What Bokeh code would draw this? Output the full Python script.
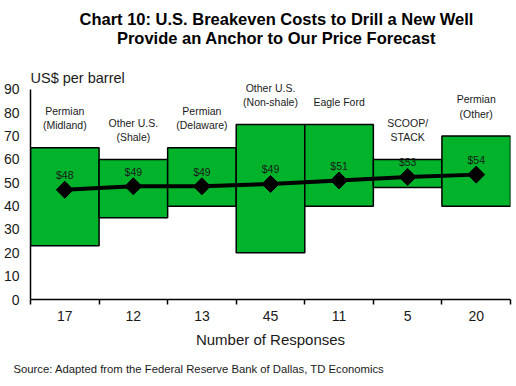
import numpy as np
from bokeh.plotting import figure
from bokeh.models import Range1d, FixedTicker, ColumnDataSource, Title
from bokeh.core.properties import value
from bokeh.embed import file_html
from bokeh.resources import INLINE

# ---- data ----
regions = ["Permian\n(Midland)", "Other U.S.\n(Shale)", "Permian\n(Delaware)",
           "Other U.S.\n(Non-shale)", "Eagle Ford", "SCOOP/\nSTACK", "Permian\n(Other)"]
responses = ["17", "12", "13", "45", "11", "5", "20"]
low = [23, 35, 40, 20, 40, 48, 40]
high = [65, 60, 65, 75, 75, 60, 70]
breakeven = [47, 48.5, 48.5, 49.5, 51, 52.5, 53.5]
breakeven_labels = ["$48", "$49", "$49", "$49", "$51", "$53", "$54"]
y_ticks = [0, 10, 20, 30, 40, 50, 60, 70, 80, 90]
title_lines = ["Chart 10: U.S. Breakeven Costs to Drill a New Well",
               "Provide an Anchor to Our Price Forecast"]

FONT = "Liberation Sans"
GREEN = "#00B32A"
TXT = "#1a1a1a"

n = len(regions)
idx = np.arange(n)
src = ColumnDataSource(dict(
    left=idx, right=idx + 1, center=idx + 0.5,
    low=low, high=high, be=breakeven, be_lab=breakeven_labels,
    reg=regions, reg_y=np.array(high) + 7.0, lab_y=np.array(breakeven) + 6.2,
))

# frame spans the full height above the x axis so the header texts sit inside it
p = figure(width=516, height=386, output_backend="svg", toolbar_location=None,
           x_range=Range1d(0, n), y_range=Range1d(0, 128.1),
           min_border_top=0, min_border_bottom=87, min_border_left=30, min_border_right=6)
p.outline_line_color = None
p.xgrid.visible = False
p.ygrid.visible = False
p.background_fill_color = "white"
p.border_fill_color = "white"

p.quad(left="left", right="right", bottom="low", top="high", source=src,
       fill_color=GREEN, line_color="black", line_width=1.5)
p.line(x="center", y="be", source=src, line_color="black", line_width=4)
p.scatter(x="center", y="be", source=src, marker="square", angle=np.pi / 4,
          size=12, fill_color="black", line_color="black")
p.text(x="center", y="lab_y", text="be_lab", source=src, text_align="center",
       text_baseline="middle", text_font=value(FONT), text_font_size="10.5px",
       text_color=TXT)
p.text(x="center", y="reg_y", text="reg", source=src, text_align="center",
       text_baseline="bottom", text_font=value(FONT), text_font_size="10.5px",
       text_color=TXT, text_line_height=1.2)
p.text(x=[0], y=[95.1], text=["US$ per barrel"], text_align="left",
       text_baseline="middle", text_font=value(FONT), text_font_size="14.5px",
       text_color=TXT)
# chart title (two centred lines)
p.text(x=[3.587, 3.587], y=[120.0, 112.1], text=title_lines, text_align="center",
       text_baseline="middle", text_font=value(FONT), text_font_size="16.5px",
       text_font_style="bold", text_color="black")

# x axis
xa = p.xaxis[0]
xa.ticker = FixedTicker(ticks=list(idx + 0.5), minor_ticks=list(range(n + 1)))
xa.major_label_overrides = {float(c): r for c, r in zip(idx + 0.5, responses)}
xa.major_tick_out = 0
xa.major_tick_in = 0
xa.minor_tick_out = 5
xa.minor_tick_in = 0
xa.minor_tick_line_color = "black"
xa.minor_tick_line_width = 1.5
xa.axis_line_color = "black"
xa.axis_line_width = 1.5
xa.major_label_text_font = FONT
xa.major_label_text_font_size = "14px"
xa.major_label_text_color = TXT
xa.major_label_standoff = 6
xa.axis_label = "Number of Responses"
xa.axis_label_text_font = FONT
xa.axis_label_text_font_size = "15px"
xa.axis_label_text_font_style = "normal"
xa.axis_label_text_color = TXT
xa.axis_label_standoff = 7

# y axis
ya = p.yaxis[0]
ya.ticker = FixedTicker(ticks=y_ticks)
ya.bounds = (0, 90)
ya.major_tick_out = 0
ya.major_tick_in = 0
ya.minor_tick_out = 0
ya.minor_tick_in = 0
ya.axis_line_color = "black"
ya.axis_line_width = 1.5
ya.major_label_text_font = FONT
ya.major_label_text_font_size = "14px"
ya.major_label_text_color = TXT
ya.major_label_standoff = 11

p.add_layout(Title(text="Source: Adapted from the Federal Reserve Bank of Dallas, TD Economics",
                   align="left", offset=-17, text_font=FONT, text_font_size="11.3px",
                   text_font_style="normal", text_color=TXT, standoff=21), "below")

open("out.html", "w").write(file_html(p, INLINE))
